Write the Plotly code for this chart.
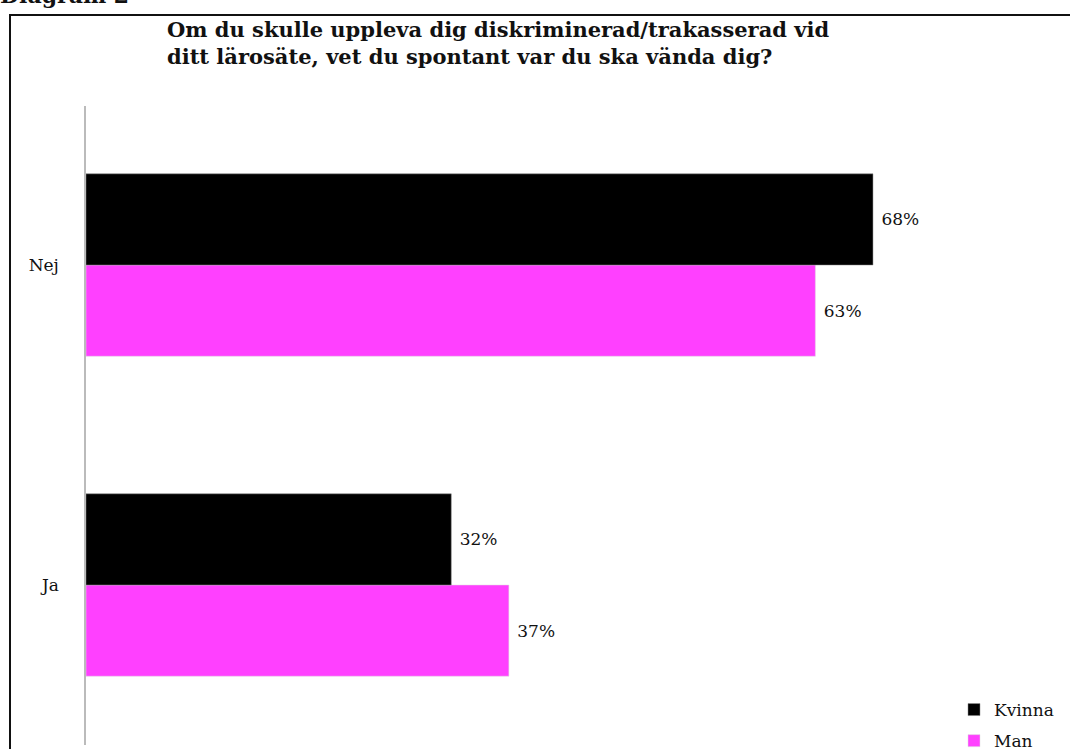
import plotly.graph_objects as go

categories = ["Ja", "Nej"]
kvinna = [31.7, 68.3]
man = [36.7, 63.3]
series_names = ["Kvinna", "Man"]
title_text = "Om du skulle uppleva dig diskriminerad/trakasserad vid<br>ditt lärosäte, vet du spontant var du ska vända dig?"
heading_text = "Diagram 2"

W, H = 1070, 749
ML, MR, MT, MB = 86, 0, 106, 4
PW = W - ML - MR
PH = H - MT - MB

def px_x(p):
    return (p - ML) / PW

def px_y(p):
    return (H - MB - p) / PH

serif = "DejaVu Serif"

fig = go.Figure()
fig.add_trace(go.Bar(
    y=categories, x=man, name=series_names[1], orientation="h",
    legendgroup="man", legendrank=2,
    marker=dict(color="#FF40FF", line=dict(color="#dddddd", width=0.5)),
    texttemplate=" %{x:.0f}%", textposition="outside",
    textfont=dict(family=serif, size=17, color="#111111"),
    cliponaxis=False,
))
fig.add_trace(go.Bar(
    y=categories, x=kvinna, name=series_names[0], orientation="h",
    legendgroup="kvinna", legendrank=1,
    marker=dict(color="#000000", line=dict(color="#888888", width=0.5)),
    texttemplate=" %{x:.0f}%", textposition="outside",
    textfont=dict(family=serif, size=17, color="#111111"),
    cliponaxis=False,
))

fig.update_layout(
    width=W, height=H,
    margin=dict(l=ML, r=MR, t=MT, b=MB, autoexpand=False),
    paper_bgcolor="white", plot_bgcolor="white",
    barmode="group", bargap=0.43, bargroupgap=0,
    font=dict(family=serif, size=17, color="#111111"),
    showlegend=True,
    legend=dict(
        x=px_x(954), y=px_y(692), xanchor="left", yanchor="top",
        traceorder="grouped", tracegroupgap=6,
        bgcolor="rgba(0,0,0,0)",
        font=dict(family=serif, size=17, color="#111111"),
    ),
    xaxis=dict(range=[0, 85.4], visible=False, fixedrange=True),
    yaxis=dict(
        categoryorder="array", categoryarray=categories,
        range=[-0.5, 1.497],
        showline=True, linecolor="#bbbbbb", linewidth=1.5,
        showgrid=False, zeroline=False, ticks="",
        ticklabelstandoff=22,
        tickfont=dict(family=serif, size=17, color="#111111"),
    ),
    shapes=[dict(
        type="rect", xref="paper", yref="paper",
        x0=px_x(10), x1=px_x(1085), y0=px_y(765), y1=px_y(15),
        line=dict(color="#111111", width=2), fillcolor="rgba(0,0,0,0)",
        layer="above",
    )],
    annotations=[
        dict(text="<b>" + title_text + "</b>", xref="paper", yref="paper",
             x=px_x(165), y=px_y(15), xanchor="left", yanchor="top",
             align="left", showarrow=False,
             font=dict(family=serif, size=21, color="#111111")),
        dict(text="<b>" + heading_text + "</b>", xref="paper", yref="paper",
             x=px_x(-2), y=px_y(10), xanchor="left", yanchor="bottom",
             align="left", showarrow=False,
             font=dict(family=serif, size=22, color="#111111")),
    ],
)

fig.write_html("out.html", config={"displayModeBar": False},
               post_script="document.body.style.margin='0px';")
